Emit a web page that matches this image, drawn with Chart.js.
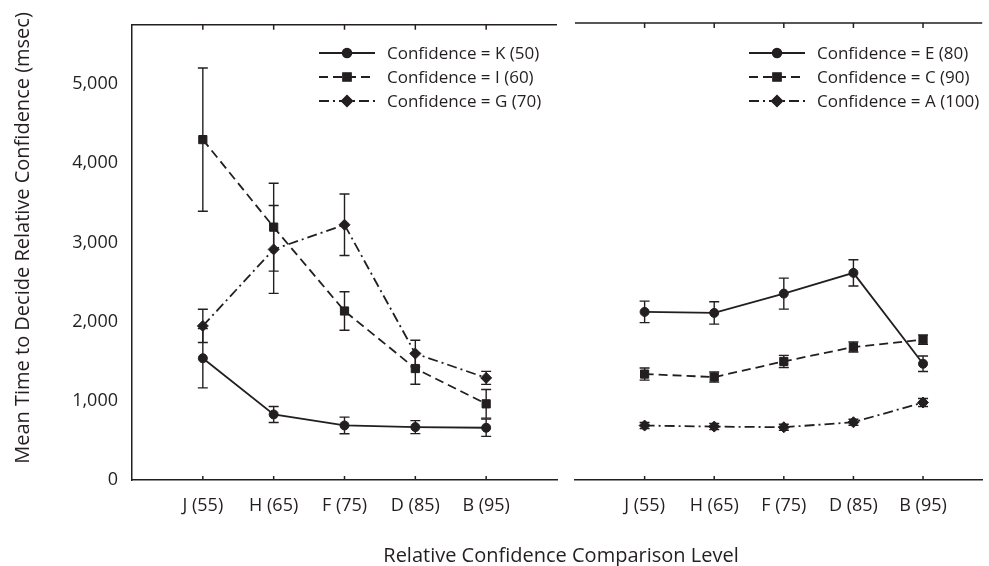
<!DOCTYPE html>
<html>
<head>
<meta charset="utf-8">
<script src="https://cdn.jsdelivr.net/npm/chart.js@4.4.1/dist/chart.umd.min.js"></script>
<style>
  html, body { margin: 0; padding: 0; background: #fff; }
  #wrap { position: relative; width: 989px; height: 566px; overflow: hidden; }
  #left { position: absolute; left: 0; top: 0; }
  #right { position: absolute; left: 566px; top: 0; }
  .atitle {
    position: absolute; text-align: center; font: 20px "Open Sans", sans-serif;
    color: #231f20; line-height: 24px; white-space: nowrap;
  }
  #xtitle { left: 311px; width: 500px; top: 543px; }
  #ytitle { left: -228px; width: 500px; top: 226px; transform: rotate(-90deg); }
</style>
</head>
<body>
<div id="wrap">
  <canvas id="left" width="566" height="566"></canvas>
  <canvas id="right" width="423" height="566"></canvas>
  <div id="xtitle" class="atitle">Relative Confidence Comparison Level</div>
  <div id="ytitle" class="atitle">Mean Time to Decide Relative Confidence (msec)</div>
</div>
<script>
// categories and tick labels
const categories = ['J (55)', 'H (65)', 'F (75)', 'D (85)', 'B (95)'];
const yTicks = [0, 1000, 2000, 3000, 4000, 5000];

// left panel: means and error half-widths (msec)
const kMean = [1538, 828, 689, 668, 660];
const kErr  = [374, 101, 105, 82, 109];
const iMean = [4300, 3194, 2135, 1408, 962];
const iErr  = [905, 555, 243, 198, 181];
const gMean = [1946, 2913, 3224, 1597, 1290];
const gErr  = [210, 555, 388, 168, 82];

// right panel
const eMean = [2115, 2102, 2345, 2606, 1463];
const eErr  = [135, 141, 195, 166, 97];
const cMean = [1333, 1295, 1492, 1673, 1765];
const cErr  = [76, 63, 76, 63, 59];
const aMean = [685, 672, 664, 727, 975];
const aErr  = [38, 38, 38, 38, 50];

const ink = '#231f20';
const FONT = '"Open Sans", sans-serif';

// line styles: solid/circle, dashed/square, dash-dot/diamond
const styles = [
  { pointStyle: 'circle', pointRadius: 4.5, borderDash: [] },
  { pointStyle: 'rect', pointRadius: 5.8, borderDash: [9, 5] },
  { pointStyle: 'rectRot', pointRadius: 5.5, borderDash: [10, 4, 2, 4] }
];

function makeDataset(label, mean, err, idx) {
  const s = styles[idx];
  return {
    label: label,
    data: mean.map((v, i) => ({ x: i, y: v })),
    err: err,
    borderColor: ink,
    borderWidth: 1.8,
    borderDash: s.borderDash,
    pointStyle: s.pointStyle,
    pointRadius: s.pointRadius,
    pointBackgroundColor: ink,
    pointBorderColor: ink,
    pointBorderWidth: 1,
    tension: 0,
    fill: false
  };
}

// error bars under the markers
const errorBars = {
  id: 'errorBars',
  beforeDatasetsDraw(chart) {
    const { ctx, scales: { x, y } } = chart;
    ctx.save();
    ctx.strokeStyle = ink;
    ctx.lineWidth = 1.4;
    chart.data.datasets.forEach(ds => {
      ds.data.forEach((p, i) => {
        const px = x.getPixelForValue(p.x);
        const top = y.getPixelForValue(p.y + ds.err[i]);
        const bot = y.getPixelForValue(p.y - ds.err[i]);
        ctx.beginPath();
        ctx.moveTo(px, top); ctx.lineTo(px, bot);
        ctx.moveTo(px - 5, top); ctx.lineTo(px + 5, top);
        ctx.moveTo(px - 5, bot); ctx.lineTo(px + 5, bot);
        ctx.stroke();
      });
    });
    ctx.restore();
  }
};

// top frame line, inward ticks and the legend
const decor = {
  id: 'decor',
  afterDraw(chart, args, opts) {
    const { ctx, chartArea: { left, right, top, bottom }, scales: { x } } = chart;
    ctx.save();
    ctx.strokeStyle = ink;
    ctx.lineWidth = 1.5;
    ctx.beginPath();
    ctx.moveTo(left, top); ctx.lineTo(right, top);
    categories.forEach((c, i) => {
      const px = x.getPixelForValue(i);
      ctx.moveTo(px, top); ctx.lineTo(px, top + 5);
      ctx.moveTo(px, bottom); ctx.lineTo(px, bottom - 4);
    });
    ctx.stroke();

    // legend
    ctx.font = '17px ' + FONT;
    ctx.textBaseline = 'middle';
    ctx.fillStyle = ink;
    chart.data.datasets.forEach((ds, i) => {
      const ly = opts.y + i * 24;
      const lx = opts.x;
      ctx.save();
      ctx.lineWidth = 1.8;
      ctx.setLineDash(ds.borderDash);
      ctx.beginPath();
      ctx.moveTo(lx, ly); ctx.lineTo(lx + 56, ly);
      ctx.stroke();
      ctx.restore();
      Chart.helpers.drawPoint(ctx, {
        pointStyle: ds.pointStyle, radius: ds.pointRadius, borderWidth: 1
      }, lx + 28, ly);
      ctx.fill();
      ctx.fillText(ds.label, lx + 68, ly + 1);
    });
    ctx.restore();
  }
};

function xScale(max) {
  return {
    type: 'linear',
    min: -1,
    max: max,
    afterFit(s) { s.height = 86; },
    afterBuildTicks(s) { s.ticks = categories.map((c, i) => ({ value: i })); },
    ticks: {
      callback: v => categories[v],
      padding: 15,
      autoSkip: false,
      maxRotation: 0,
      color: ink,
      font: { family: FONT, size: 18 }
    },
    grid: { display: false, drawTicks: false },
    border: { display: true, color: ink, width: 1.5 }
  };
}

const common = {
  responsive: false,
  animation: false,
  plugins: { legend: { display: false }, tooltip: { enabled: false } }
};

new Chart(document.getElementById('left'), {
  type: 'line',
  data: {
    datasets: [
      makeDataset('Confidence = K (50)', kMean, kErr, 0),
      makeDataset('Confidence = I (60)', iMean, iErr, 1),
      makeDataset('Confidence = G (70)', gMean, gErr, 2)
    ]
  },
  options: {
    ...common,
    layout: { padding: { top: 23, right: 9, left: 0, bottom: 0 } },
    plugins: { ...common.plugins, decor: { x: 319, y: 53 } },
    scales: {
      x: xScale(5),
      y: {
        min: 0,
        max: 5750,
        afterFit(s) { s.width = 132; },
        afterBuildTicks(s) { s.ticks = yTicks.map(v => ({ value: v })); },
        ticks: {
          callback: v => v.toLocaleString('en-US'),
          padding: 14,
          color: ink,
          font: { family: FONT, size: 18 }
        },
        grid: { display: false, drawTicks: false },
        border: { display: true, color: ink, width: 1.5 }
      }
    }
  },
  plugins: [errorBars, decor]
});

new Chart(document.getElementById('right'), {
  type: 'line',
  data: {
    datasets: [
      makeDataset('Confidence = E (80)', eMean, eErr, 0),
      makeDataset('Confidence = C (90)', cMean, cErr, 1),
      makeDataset('Confidence = A (100)', aMean, aErr, 2)
    ]
  },
  options: {
    ...common,
    layout: { padding: { top: 23, right: 0, left: 9, bottom: 0 } },
    plugins: { ...common.plugins, decor: { x: 183, y: 53 } },
    scales: {
      x: xScale(4.85),
      y: { display: false, min: 0, max: 5750 }
    }
  },
  plugins: [errorBars, decor]
});
</script>
</body>
</html>
